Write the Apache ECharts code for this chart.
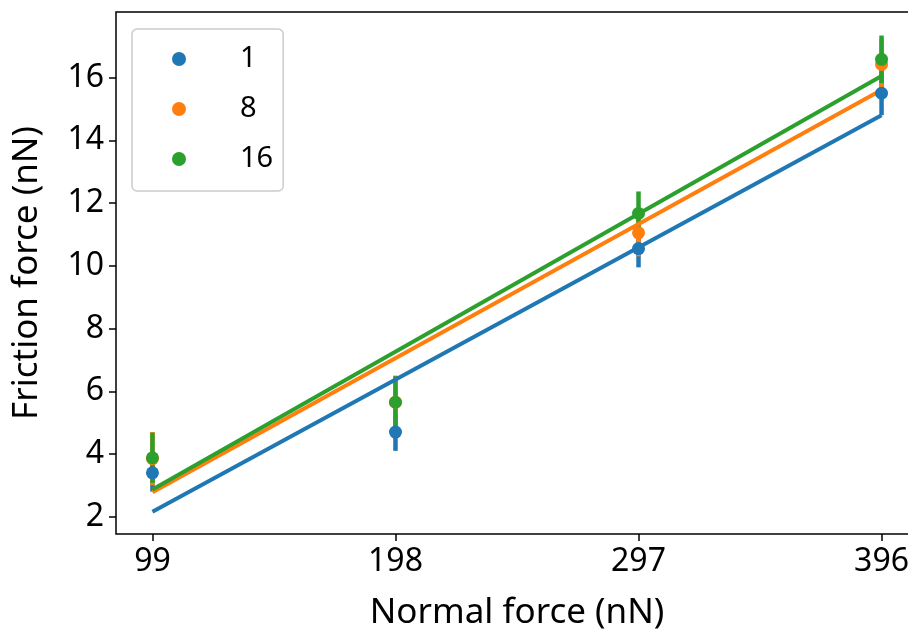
<!DOCTYPE html>
<html>
<head>
<meta charset="utf-8">
<script src="https://cdn.jsdelivr.net/npm/echarts@6/dist/echarts.min.js"></script>
<style>
  html, body { margin: 0; padding: 0; background: #fff; overflow: hidden; }
  /* the plot frame runs past the right edge of the window, as in the source figure */
  #frictionChart { width: 930px; height: 631px; }
</style>
</head>
<body>
<div id="frictionChart"></div>
<script>
// normal force positions (nN)
const normalForce = [99, 198, 297, 396]
const yTicks = [2, 4, 6, 8, 10, 12, 14, 16]
const seriesNames = ['1', '8', '16']

// mean friction force and error half-widths per series
const mean1 = [3.40, 4.70, 10.55, 15.50]
const err1 = [0.60, 0.60, 0.60, 0.70]
const mean8 = [3.85, 5.65, 11.05, 16.42]
const err8 = [0.85, 0.85, 0.75, 0.80]
const mean16 = [3.88, 5.65, 11.67, 16.58]
const err16 = [0.80, 0.83, 0.70, 0.76]

// linear fit end points at x = 99 and x = 396
const fit1 = [2.16, 14.80]
const fit8 = [2.78, 15.60]
const fit16 = [2.87, 16.05]

const colors = ['#1f77b4', '#ff7f0e', '#2ca02c']
const font = 'Noto Sans'

const groups = [
  { name: seriesNames[0], mean: mean1, err: err1, fit: fit1 },
  { name: seriesNames[1], mean: mean8, err: err8, fit: fit8 },
  { name: seriesNames[2], mean: mean16, err: err16, fit: fit16 }
]

const series = []
// error bars first (all under the dots)
groups.forEach((g, i) => {
  series.push({
    type: 'custom',
    silent: true,
    z: 2,
    data: normalForce.map((x, k) => [x, g.mean[k] - g.err[k], g.mean[k] + g.err[k]]),
    renderItem (params, api) {
      const lo = api.coord([api.value(0), api.value(1)])
      const hi = api.coord([api.value(0), api.value(2)])
      return {
        type: 'line',
        shape: { x1: lo[0], y1: lo[1], x2: hi[0], y2: hi[1] },
        style: { stroke: colors[i], lineWidth: 4.5 }
      }
    }
  })
})
// fitted lines
groups.forEach((g, i) => {
  series.push({
    type: 'line',
    silent: true,
    z: 3,
    showSymbol: false,
    data: [[normalForce[0], g.fit[0]], [normalForce[3], g.fit[1]]],
    lineStyle: { color: colors[i], width: 4 }
  })
})
// mean points
groups.forEach((g, i) => {
  series.push({
    name: g.name,
    type: 'scatter',
    z: 4,
    symbolSize: 13,
    itemStyle: { color: colors[i], opacity: 1 },
    data: normalForce.map((x, k) => [x, g.mean[k]])
  })
})

const tickStyle = { color: '#000', width: 1.5 }

const option = {
  animation: false,
  color: colors,
  textStyle: { fontFamily: font },
  grid: {
    left: 116,
    top: 12,
    right: 12,
    bottom: 97,
    containLabel: false,
    outerBoundsMode: 'none',
    show: true,
    borderColor: '#000',
    borderWidth: 1.5
  },
  legend: {
    data: seriesNames,
    orient: 'vertical',
    left: 132,
    top: 29,
    icon: 'circle',
    itemWidth: 14,
    itemHeight: 14,
    itemGap: 18,
    padding: [14, 10, 16, 40],
    borderColor: '#cccccc',
    borderWidth: 1.5,
    borderRadius: 5,
    textStyle: {
      fontFamily: font,
      fontSize: 29,
      lineHeight: 32,
      color: '#000',
      padding: [0, 0, 0, 49]
    }
  },
  xAxis: {
    type: 'value',
    min: 84.15,
    max: 410.85,
    name: 'Normal force (nN)',
    nameLocation: 'middle',
    nameGap: 62,
    nameTextStyle: { fontFamily: font, fontSize: 35, color: '#000' },
    axisLine: { show: false },
    axisTick: { show: true, length: 7, customValues: normalForce, lineStyle: tickStyle },
    axisLabel: { customValues: normalForce, fontFamily: font, fontSize: 32, color: '#000', margin: 12 },
    splitLine: { show: false }
  },
  yAxis: {
    type: 'value',
    min: 1.45,
    max: 18.09,
    name: 'Friction force (nN)',
    nameLocation: 'middle',
    nameGap: 71,
    nameRotate: 90,
    nameTextStyle: { fontFamily: font, fontSize: 35, color: '#000' },
    axisLine: { show: false },
    axisTick: { show: true, length: 7, customValues: yTicks, lineStyle: tickStyle },
    axisLabel: { customValues: yTicks, fontFamily: font, fontSize: 32, color: '#000', margin: 12 },
    splitLine: { show: false }
  },
  series: series
}

const myChart = echarts.init(document.getElementById('frictionChart'))
myChart.setOption(option)
</script>
</body>
</html>
